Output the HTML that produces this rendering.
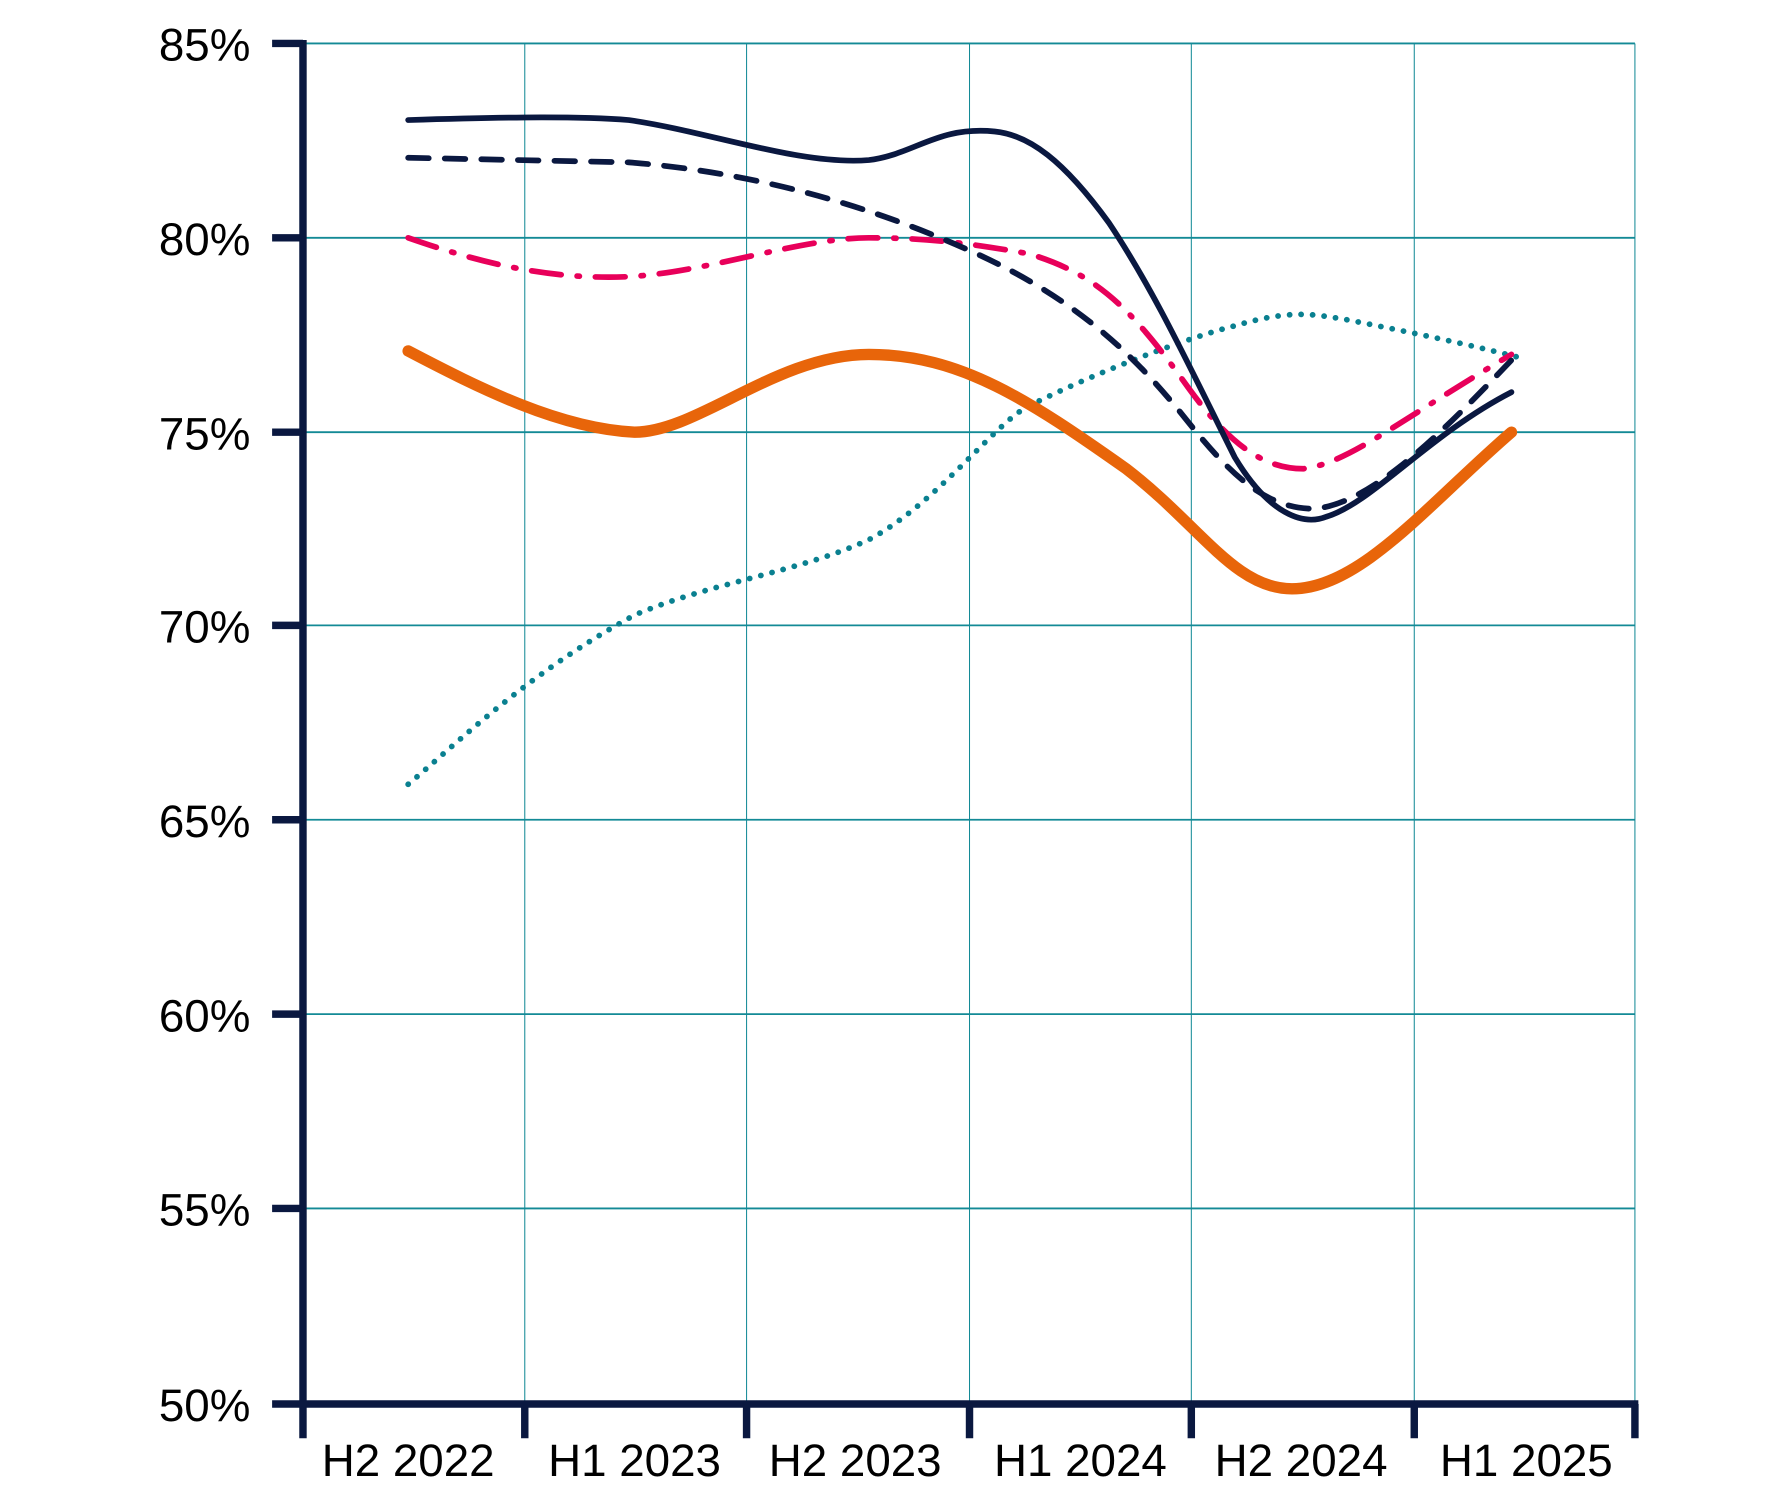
<!DOCTYPE html>
<html><head><style>html,body{margin:0;padding:0;background:#fff;}svg{display:block}</style></head>
<body>
<svg width="1792" height="1500" viewBox="0 0 1792 1500" xmlns="http://www.w3.org/2000/svg">
<g transform="scale(1.1433)">
<g stroke="#138a96" stroke-width="1.6">
<line x1="265" y1="38" x2="1430" y2="38"/>
<line x1="265" y1="208" x2="1430" y2="208"/>
<line x1="265" y1="378" x2="1430" y2="378"/>
<line x1="265" y1="547" x2="1430" y2="547"/>
<line x1="265" y1="717" x2="1430" y2="717"/>
<line x1="265" y1="887" x2="1430" y2="887"/>
<line x1="265" y1="1057" x2="1430" y2="1057"/>
</g>
<g stroke="#138a96" stroke-width="0.9">
<line x1="459" y1="38" x2="459" y2="1228"/>
<line x1="653" y1="38" x2="653" y2="1228"/>
<line x1="848" y1="38" x2="848" y2="1228"/>
<line x1="1042" y1="38" x2="1042" y2="1228"/>
<line x1="1237" y1="38" x2="1237" y2="1228"/>
<line x1="1430" y1="38" x2="1430" y2="1228"/>
</g>
<g stroke="#0a1840" stroke-width="6.5" fill="none">
<line x1="265" y1="35" x2="265" y2="1258"/>
<line x1="262" y1="1228" x2="1433" y2="1228"/>
<line x1="238" y1="38" x2="265" y2="38"/>
<line x1="238" y1="208" x2="265" y2="208"/>
<line x1="238" y1="378" x2="265" y2="378"/>
<line x1="238" y1="547" x2="265" y2="547"/>
<line x1="238" y1="717" x2="265" y2="717"/>
<line x1="238" y1="887" x2="265" y2="887"/>
<line x1="238" y1="1057" x2="265" y2="1057"/>
<line x1="238" y1="1228" x2="265" y2="1228"/>
<line x1="459" y1="1228" x2="459" y2="1258"/>
<line x1="653" y1="1228" x2="653" y2="1258"/>
<line x1="848" y1="1228" x2="848" y2="1258"/>
<line x1="1042" y1="1228" x2="1042" y2="1258"/>
<line x1="1237" y1="1228" x2="1237" y2="1258"/>
<line x1="1430" y1="1228" x2="1430" y2="1258"/>
</g>
<g font-family="Liberation Sans, sans-serif" font-size="40" fill="#000" text-anchor="end">
<text x="219" y="53">85%</text>
<text x="219" y="223">80%</text>
<text x="219" y="393">75%</text>
<text x="219" y="562">70%</text>
<text x="219" y="732">65%</text>
<text x="219" y="902">60%</text>
<text x="219" y="1072">55%</text>
<text x="219" y="1243">50%</text>
</g>
<g font-family="Liberation Sans, sans-serif" font-size="40" fill="#000" text-anchor="middle">
<text x="357" y="1291">H2 2022</text>
<text x="555" y="1291">H1 2023</text>
<text x="748" y="1291">H2 2023</text>
<text x="945" y="1291">H1 2024</text>
<text x="1138" y="1291">H2 2024</text>
<text x="1335" y="1291">H1 2025</text>
</g>
<g fill="none" stroke-linecap="round">
<path d="M357,686 C400,650 460,590 555,538 C620,510 700,500 760,472 C820,440 870,370 900,355 C960,325 1040,295 1080,285 C1130,270 1150,275 1180,280 C1230,290 1280,300 1330,313" stroke="#0a8090" stroke-width="5" stroke-dasharray="0.1 10"/>
<path d="M357,208 C420,230 480,245 550,242 C620,238 700,208 760,208 C820,208 860,215 900,222 C960,240 990,270 1040,340 C1080,395 1110,410 1140,410 C1180,405 1220,370 1322,310" stroke="#e8005a" stroke-width="5" stroke-dasharray="26 14 2 14"/>
<path d="M357,138 L550,142 C650,150 750,175 850,220 C950,265 1000,320 1040,370 C1080,420 1110,445 1150,445 C1200,440 1260,380 1322,315" stroke="#0a1840" stroke-width="5" stroke-dasharray="18 14"/>
<path d="M357,105 C420,103 500,101 550,105 C620,115 700,145 760,140 C800,135 820,110 870,115 C900,118 930,140 970,195 C1010,255 1040,320 1080,400 C1110,450 1140,460 1160,452 C1200,440 1250,380 1322,343" stroke="#0a1840" stroke-width="5"/>
<path d="M357,307 C420,340 490,375 555,378 C610,378 680,310 760,310 C840,310 900,350 985,410 C1050,460 1080,515 1130,515 C1190,515 1250,440 1322,378" stroke="#e8650a" stroke-width="10"/>
</g>
</g>
</svg>
</body></html>
